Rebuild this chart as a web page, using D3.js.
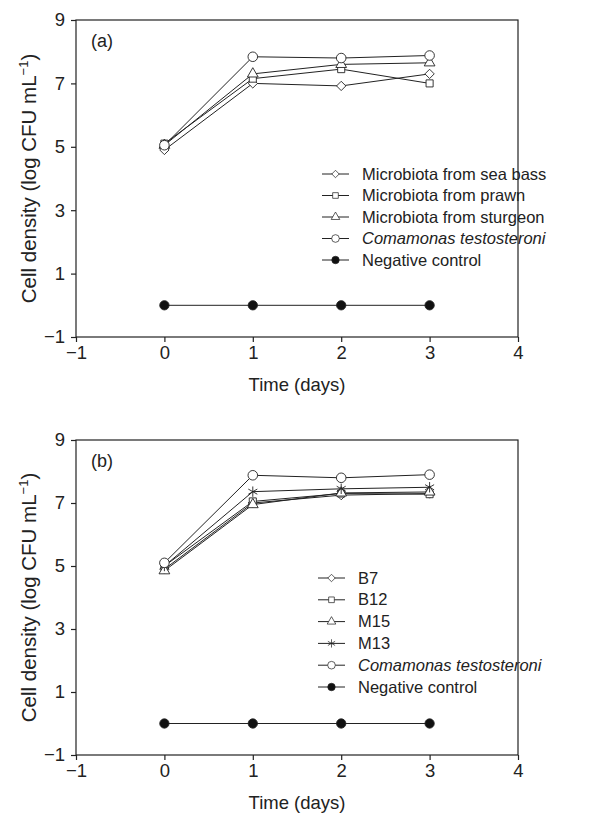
<!DOCTYPE html>
<html>
<head>
<meta charset="utf-8">
<script src="https://cdn.jsdelivr.net/npm/d3@7"></script>
<style>
  body { margin: 0; background: #fff; }
  text { font-family: "Liberation Sans", Arial, sans-serif; fill: #222; }
</style>
</head>
<body>
<div id="chart"></div>
<script>
const W = 595, H = 815

// shared
const days = [0, 1, 2, 3]
const xTicks = [-1, 0, 1, 2, 3, 4]
const yTicks = [-1, 1, 3, 5, 7, 9]

// panel (a)
const namesA = ["Microbiota from sea bass", "Microbiota from prawn", "Microbiota from sturgeon", "Comamonas testosteroni", "Negative control"]
const seaBass = [4.9, 7.0, 6.92, 7.3]
const prawn = [5.1, 7.15, 7.45, 7.0]
const sturgeon = [5.05, 7.3, 7.6, 7.65]
const comamonasA = [5.05, 7.84, 7.8, 7.88]
const negA = [0, 0, 0, 0]

// panel (b)
const namesB = ["B7", "B12", "M15", "M13", "Comamonas testosteroni", "Negative control"]
const b7 = [4.9, 7.0, 7.25, 7.3]
const b12 = [5.0, 7.05, 7.3, 7.28]
const m15 = [4.85, 6.95, 7.32, 7.35]
const m13 = [5.0, 7.36, 7.45, 7.5]
const comamonasB = [5.1, 7.88, 7.8, 7.9]
const negB = [0, 0, 0, 0]

const svg = d3.select("#chart").append("svg")
    .attr("width", W)
    .attr("height", H)

// marker shapes
const star = {
  draw(ctx, size) {
    const r = Math.sqrt(size) * 0.62
    ctx.moveTo(0, -r); ctx.lineTo(0, r)
    ctx.moveTo(-r * 0.87, -r * 0.5); ctx.lineTo(r * 0.87, r * 0.5)
    ctx.moveTo(-r * 0.87, r * 0.5); ctx.lineTo(r * 0.87, -r * 0.5)
  }
}
const diamond = d3.symbolDiamond2 || d3.symbolDiamond
const shapes = {
  diamond: d3.symbol().type(diamond).size(55)(),
  square: d3.symbol().type(d3.symbolSquare).size(50)(),
  triangle: d3.symbol().type(d3.symbolTriangle).size(50)(),
  circle: d3.symbol().type(d3.symbolCircle).size(72)(),
  dot: d3.symbol().type(d3.symbolCircle).size(68)(),
  star: d3.symbol().type(star).size(70)()
}

function panel(cfg) {
  const x = d3.scaleLinear().domain([-1, 4]).range([cfg.left, cfg.right])
  const y = d3.scaleLinear().domain([-1, 9]).range([cfg.bottom, cfg.top])
  const g = svg.append("g")

  // frame
  g.append("rect")
    .attr("x", cfg.left).attr("y", cfg.top)
    .attr("width", cfg.right - cfg.left).attr("height", cfg.bottom - cfg.top)
    .attr("fill", "none").attr("stroke", "#222").attr("stroke-width", 1.2)

  const xAxis = g.append("g")
    .attr("transform", `translate(0,${cfg.bottom})`)
    .call(d3.axisBottom(x).tickValues(xTicks).tickSize(5).tickPadding(4)
      .tickFormat(d => d < 0 ? "\u2212" + Math.abs(d) : d))
  const yAxis = g.append("g")
    .attr("transform", `translate(${cfg.left},0)`)
    .call(d3.axisLeft(y).tickValues(yTicks).tickSize(5).tickPadding(6)
      .tickFormat(d => d < 0 ? "\u2212" + Math.abs(d) : d))
  for (const a of [xAxis, yAxis]) {
    a.select(".domain").remove()
    a.selectAll("line").attr("stroke", "#222").attr("stroke-width", 1.2)
    a.selectAll("text").attr("font-size", 18.5).style("fill", "#222")
  }

  g.append("text").attr("x", cfg.left + 15).attr("y", cfg.top + 27)
    .attr("font-size", 18).text(cfg.label)

  g.append("text").attr("x", (cfg.left + cfg.right) / 2).attr("y", cfg.bottom + 54)
    .attr("text-anchor", "middle").attr("font-size", 18.5).text("Time (days)")

  const yt = g.append("text")
    .attr("transform", `translate(${cfg.left - 40},${(cfg.top + cfg.bottom) / 2}) rotate(-90)`)
    .attr("text-anchor", "middle").attr("font-size", 20.5)
  yt.append("tspan").text("Cell density (log CFU mL")
  yt.append("tspan").attr("font-size", 13).attr("dy", -8).text("\u22121")
  yt.append("tspan").attr("dy", 8).text(")")

  const line = d3.line().x((d, i) => x(days[i])).y(d => y(d))

  cfg.series.forEach(s => {
    g.append("path").datum(s.values)
      .attr("d", line)
      .attr("fill", "none").attr("stroke", "#222").attr("stroke-width", 1)
  })
  cfg.series.forEach(s => {
    g.selectAll(null).data(s.values).enter().append("path")
      .attr("transform", (d, i) => `translate(${x(days[i])},${y(d)})`)
      .attr("d", shapes[s.shape])
      .attr("fill", s.shape === "dot" ? "#111" : (s.shape === "star" ? "none" : "#fff"))
      .attr("stroke", "#222").attr("stroke-width", 0.9)
  })

  // legend
  const lg = g.append("g")
  cfg.series.forEach((s, i) => {
    const ly = cfg.legendY + i * cfg.legendStep
    lg.append("line").attr("x1", cfg.legendX).attr("x2", cfg.legendX + 27)
      .attr("y1", ly).attr("y2", ly).attr("stroke", "#222").attr("stroke-width", 1)
    lg.append("path")
      .attr("d", shapes[s.shape])
      .attr("fill", s.shape === "dot" ? "#111" : (s.shape === "star" ? "none" : "#fff"))
      .attr("stroke", "#222").attr("stroke-width", 0.9)
      .attr("transform", `translate(${cfg.legendX + 13.5},${ly}) scale(0.8)`)
    lg.append("text").attr("x", cfg.legendX + 40).attr("y", ly + 5.5)
      .attr("font-size", 16.5)
      .attr("font-style", s.name.startsWith("Comamonas") ? "italic" : "normal")
      .text(s.name)
  })
}

panel({
  left: 76, right: 518, top: 20, bottom: 337, label: "(a)",
  legendX: 322, legendY: 174, legendStep: 21.5,
  series: [
    {name: namesA[0], values: seaBass, shape: "diamond"},
    {name: namesA[1], values: prawn, shape: "square"},
    {name: namesA[2], values: sturgeon, shape: "triangle"},
    {name: namesA[3], values: comamonasA, shape: "circle"},
    {name: namesA[4], values: negA, shape: "dot"}
  ]
})

panel({
  left: 76, right: 518, top: 440, bottom: 755, label: "(b)",
  legendX: 318, legendY: 578, legendStep: 21.8,
  series: [
    {name: namesB[0], values: b7, shape: "diamond"},
    {name: namesB[1], values: b12, shape: "square"},
    {name: namesB[2], values: m15, shape: "triangle"},
    {name: namesB[3], values: m13, shape: "star"},
    {name: namesB[4], values: comamonasB, shape: "circle"},
    {name: namesB[5], values: negB, shape: "dot"}
  ]
})
</script>
</body>
</html>
